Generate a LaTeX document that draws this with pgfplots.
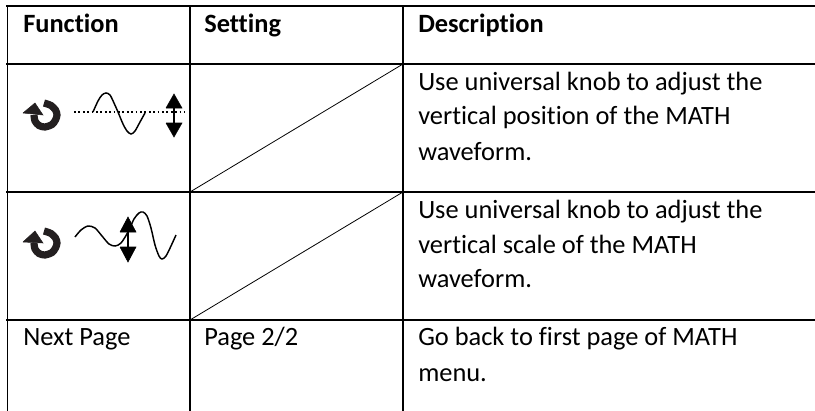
\documentclass[border=0pt]{standalone}
\usepackage{pgfplots}
\pgfplotsset{compat=1.18}
\usepackage{fontspec}
\setmainfont[Ligatures=NoCommon]{Carlito}
\definecolor{ink}{HTML}{231F20}
\newcommand{\cell}[3]{\node[anchor=base west,inner sep=0pt] at (axis cs:#1,#2) {\fontsize{19.8pt}{24pt}\selectfont #3};}
\begin{document}
\begin{tikzpicture}
\begin{axis}[scale only axis,width=611.25pt,height=308.25pt,xmin=0,xmax=815,ymin=0,ymax=411,y dir=reverse,axis lines=none,clip=false]
\path[use as bounding box] (axis cs:0,0) rectangle (axis cs:815,411);
% table rules
\addplot[black,line width=1.4pt] coordinates {(6,6)(815,6)};
\addplot[black,line width=1.4pt] coordinates {(6,64)(815,64)};
\addplot[black,line width=1.2pt] coordinates {(6,192)(815,192)};
\addplot[black,line width=1.2pt] coordinates {(6,320)(815,320)};
\addplot[black,line width=1.2pt] coordinates {(7.3,6)(7.3,411)};
\addplot[black,line width=1.2pt] coordinates {(190,6)(190,411)};
\addplot[black,line width=1.2pt] coordinates {(403,6)(403,411)};
% diagonals
\addplot[black,line width=0.6pt] coordinates {(190,192)(403,64)};
\addplot[black,line width=0.6pt] coordinates {(190,320)(403,192)};
% icon 1 wave
\addplot[black,line width=1.1pt,smooth] coordinates {(93,112)(98,101)(102,95)(106,93)(110,95)(114,103)(118,112)(123,124)(127,131)(131,134)(135,131)(140,122)(145,113)};
\addplot[black,line width=1.3pt,dotted] coordinates {(74,112)(185,112)};
\addplot[black,line width=1pt] coordinates {(174,106)(174,125)};
\addplot[black,fill=black] coordinates {(166,108)(182,108)(174,94)(166,108)};
\addplot[black,fill=black] coordinates {(166,123)(182,123)(174,137)(166,123)};
% icon 2 wave
\addplot[black,line width=1.1pt,smooth] coordinates {(75,237)(81,230)(88,226)(95,228)(102,236)(109,244)(115,246)(121,243)(128,232)(134,219)(139,213)(143,212)(147,216)(151,228)(155,245)(159,256)(162,259)(166,256)(171,246)(176,235)};
\addplot[black,line width=1pt] coordinates {(128,230)(128,249)};
\addplot[black,fill=black] coordinates {(120,232)(136,232)(128,217)(120,232)};
\addplot[black,fill=black] coordinates {(120,247)(136,247)(128,262)(120,247)};
% knobs
\addplot[ink,line width=5.4pt,smooth] coordinates {(44,103)(51,105.5)(55.5,110)(57,115)(55.5,120)(52,124.5)(45,127)(39,125.5)(35,121)(34,115)};
\addplot[ink,fill=ink] coordinates {(23,113)(43,115)(35,103)(23,113)};
\addplot[ink,line width=5.4pt,smooth] coordinates {(44,231)(51,233.5)(55.5,238)(57,243)(55.5,248)(52,252.5)(45,255)(39,253.5)(35,249)(34,243)};
\addplot[ink,fill=ink] coordinates {(23,242)(43,243)(35,231)(23,242)};
% text
\cell{23}{32}{\textbf{Function}}
\cell{204}{32}{\textbf{Setting}}
\cell{418}{32}{\textbf{Description}}
\cell{418}{90}{Use universal knob to adjust the}
\cell{418}{124}{vertical position of the MATH}
\cell{418}{160}{waveform.}
\cell{418}{218}{Use universal knob to adjust the}
\cell{418}{253}{vertical scale of the MATH}
\cell{418}{287}{waveform.}
\cell{23}{345}{Next Page}
\cell{204}{345}{Page 2/2}
\cell{418}{345}{Go back to first page of MATH}
\cell{418}{381}{menu.}
\end{axis}
\end{tikzpicture}
\end{document}
